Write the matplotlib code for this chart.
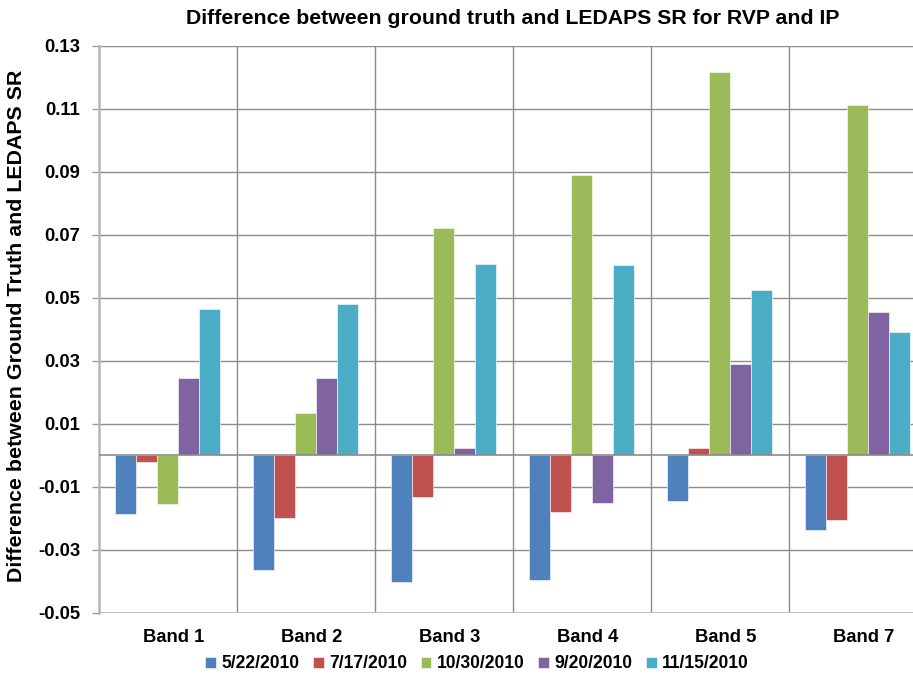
import matplotlib
matplotlib.use("Agg")
import matplotlib.pyplot as plt
import matplotlib.transforms as mtransforms
import numpy as np

categories = ["Band 1", "Band 2", "Band 3", "Band 4", "Band 5", "Band 7"]
series_names = ["5/22/2010", "7/17/2010", "10/30/2010", "9/20/2010", "11/15/2010"]
s_0522 = [-0.0187, -0.0365, -0.0404, -0.0397, -0.0145, -0.0239]
s_0717 = [-0.0021, -0.0201, -0.0134, -0.0182, 0.0022, -0.0206]
s_1030 = [-0.0156, 0.0132, 0.0721, 0.0888, 0.1215, 0.1110]
s_0920 = [0.0245, 0.0244, 0.0023, -0.0152, 0.0288, 0.0453]
s_1115 = [0.0464, 0.0478, 0.0605, 0.0602, 0.0523, 0.0392]
series = [s_0522, s_0717, s_1030, s_0920, s_1115]
colors = ["#4F81BD", "#C0504D", "#9BBB59", "#8064A2", "#4BACC6"]
yticks = [-0.05, -0.03, -0.01, 0.01, 0.03, 0.05, 0.07, 0.09, 0.11, 0.13]

plt.rcParams['font.family'] = ['Liberation Sans', 'DejaVu Sans']
plt.rcParams['font.weight'] = 'bold'

W, H = 913, 678
fig = plt.figure(figsize=(W / 100, H / 100), dpi=100)
ax = fig.add_axes([98.5 / W, 1 - 612.5 / H, 828 / W, 567 / H])

n = len(categories)
x = np.arange(n) + 0.5
w = 0.152
for j, (vals, c, name) in enumerate(zip(series, colors, series_names)):
    ax.bar(x + (j - 2) * w, vals, width=w, color=c, label=name,
           edgecolor='white', linewidth=0.4, zorder=3)

ax.set_xlim(0, n)
ax.set_ylim(-0.05, 0.13)
ax.set_yticks(yticks)
ax.set_yticklabels([f"{t:.2f}" for t in yticks], fontsize=12.5, fontweight='bold')
ax.set_xticks(x)
ax.set_xticklabels(categories, fontsize=12.5, fontweight='bold')
ax.tick_params(axis='x', length=0, pad=12)
ax.tick_params(axis='y', length=5, width=1, color='#9a9a9a', pad=8, direction='out')

shift = mtransforms.ScaledTranslation(6 / 100, 0, fig.dpi_scale_trans)
for lbl in ax.get_xticklabels():
    lbl.set_transform(lbl.get_transform() + shift)

for t in yticks:
    ax.axhline(t, color='#8c8c8c', lw=1.0, zorder=1)
for b in range(1, n + 1):
    ax.axvline(b, color='#8c8c8c', lw=1.0, zorder=1)
ax.axhline(0, color='#8c8c8c', lw=1.2, zorder=4)

for s in ['top', 'right', 'bottom']:
    ax.spines[s].set_visible(False)
ax.spines['left'].set_color('#b5b5b5')
ax.spines['left'].set_linewidth(1.8)
ax.axhline(-0.05, color='#c0c0c0', lw=1.5, zorder=1)

title = fig.text(513 / W, 1 - 18 / H, "Difference between ground truth and LEDAPS SR for RVP and IP",
                 ha='center', va='center', fontsize=15, fontweight='bold')
ylab = fig.text(17 / W, 1 - 326 / H, "Difference between Ground Truth and LEDAPS SR",
                ha='center', va='center', rotation=90, fontsize=15, fontweight='bold')

def make_legend(size):
    return fig.legend(loc='center', bbox_to_anchor=(477 / W, 1 - 664 / H), ncol=5,
                      frameon=False, handlelength=0.6, handleheight=0.6,
                      handletextpad=0.3, columnspacing=0.8, borderpad=0.0,
                      prop={'weight': 'bold', 'size': size})

leg = make_legend(13)

# fit text sizes to the reference's measured extents
for _ in range(3):
    fig.canvas.draw()
    r = fig.canvas.get_renderer()
    bw = title.get_window_extent(r).width
    title.set_fontsize(title.get_fontsize() * 654 / bw)
    bh = ylab.get_window_extent(r).height
    ylab.set_fontsize(ylab.get_fontsize() * 510 / bh)
    lw_ = leg.get_window_extent(r).width
    size = leg.get_texts()[0].get_fontsize() * 545 / lw_
    leg.remove()
    leg = make_legend(size)
    tl = ax.get_yticklabels()[-1]
    s_y = tl.get_fontsize() * 36 / tl.get_window_extent(r).width
    for t in ax.get_yticklabels():
        t.set_fontsize(s_y)
    xl = ax.get_xticklabels()[0]
    s_x = xl.get_fontsize() * 61 / xl.get_window_extent(r).width
    for t in ax.get_xticklabels():
        t.set_fontsize(s_x)

fig.savefig("out.png", dpi=100)
